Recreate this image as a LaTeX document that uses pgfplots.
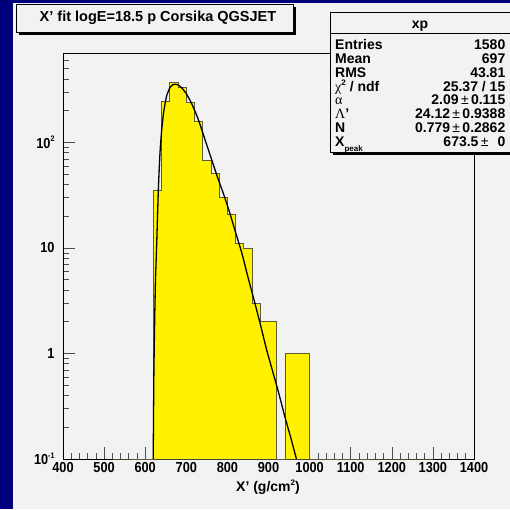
\documentclass[border=0pt]{standalone}
\usepackage{fontspec}
\setmainfont{Liberation Sans}
\newfontfamily\tickfont{Liberation Sans}[FakeStretch=0.88]
\newfontfamily\greek{Liberation Serif}
\usepackage{pgfplots}
\pgfplotsset{compat=1.18}
\definecolor{navyb}{RGB}{0,0,125}
\definecolor{canvas}{RGB}{242,242,242}
\definecolor{histline}{RGB}{90,90,60}
\newcommand{\sups}[1]{\raisebox{0.45em}{\fontsize{8}{8}\selectfont #1}}
\newcommand{\subs}[1]{\raisebox{-0.3em}{\fontsize{8}{8}\selectfont #1}}
\begin{document}
\begin{tikzpicture}[x=1pt,y=1pt]
\clip (0,0) rectangle (510,509);
\fill[navyb] (0,0) rectangle (510,509);
\fill[canvas] (13,0) rectangle (510,506);
\begin{axis}[at={(63pt,50pt)}, anchor=south west, scale only axis,
  width=411pt, height=406pt,
  xmin=400, xmax=1400, ymode=log, ymin=0.1, ymax=705,
  xtick={400,500,...,1400}, minor x tick num=4,
  ytick={0.1,1,10,100},
  minor ytick={0.2,0.3,0.4,0.5,0.6,0.7,0.8,0.9,2,3,4,5,6,7,8,9,20,30,40,50,60,70,80,90,200,300,400,500,600,700},
  yticklabels={10\sups{-1},1,10,10\sups{2}},
  xtick pos=bottom, ytick pos=left, tick align=inside,
  major tick length=12pt, minor tick length=6pt,
  every tick/.style={gray!60!black, line width=0.6pt},
  axis line style={black, line width=0.7pt},
  tick label style={font=\tickfont\fontsize{14.5}{16}\selectfont\bfseries},
  /pgf/number format/1000 sep={},
  /pgf/number format/assume math mode=true,
  xticklabel style={yshift=0pt},
  yticklabel style={xshift=-5pt},
  axis background/.style={fill=canvas}]
\addplot[fill=yellow, draw=histline, line width=0.8pt, const plot mark left] coordinates {
(520,0.1) (620,35) (640,244) (660,369) (680,331) (700,239) (720,160) (740,68)
(760,51) (780,30) (800,21) (820,11) (840,10) (860,3) (880,2) (900,2)
(920,0.1) (940,1) (960,1) (980,1) (1000,0.1) (1300,0.1)} -- cycle;
\addplot[black, line width=1.3pt, smooth, tension=0.3] coordinates {
(619.5,0.1) (621,0.6) (623,2) (625,5) (628,11) (632,36) (636,80) (640,130)
(645,195) (652,275) (660,330) (667,352) (674,357) (682,348) (690,326) (700,290)
(710,247) (720,203) (730,162) (745,108) (760,72) (775,48) (790,33) (805,22)
(820,14) (835,9) (850,5.3) (865,3.2) (880,1.9) (895,1.1) (910,0.68) (925,0.42)
(940,0.25) (955,0.155) (968,0.1)};
\end{axis}
\node[font=\fontsize{14}{16}\selectfont\bfseries] at (268,22) {X' (g/cm\sups{2})};
% title box
\fill[black] (19,474) rectangle (296,502);
\filldraw[fill=canvas, draw=black, line width=0.7pt] (16,477) rectangle (293,505);
\node[font=\fontsize{14.5}{16}\selectfont\bfseries] at (158,491) {X' fit logE=18.5 p Corsika QGSJET};
% stats box
\fill[black] (333,354) rectangle (515,494);
\filldraw[fill=canvas, draw=black, line width=0.7pt] (330,357) rectangle (515,497);
\draw[black, line width=0.7pt] (330,476) -- (515,476);
\begin{scope}[every node/.style={font=\fontsize{14}{16}\selectfont\bfseries, inner sep=0pt}]
\node[anchor=base] at (420,480) {xp};
\node[anchor=base west] at (335,459) {Entries};
\node[anchor=base east] at (505.5,459) {1580};
\node[anchor=base west] at (335,445) {Mean};
\node[anchor=base east] at (505.5,445) {697};
\node[anchor=base west] at (335,431) {RMS};
\node[anchor=base east] at (505.5,431) {43.81};
\node[anchor=base west] at (335,417) {{\greek\mdseries χ}\sups{2} / ndf};
\node[anchor=base east] at (505.5,417) {25.37 / 15};
\node[anchor=base west] at (335,404.5) {{\greek\mdseries α}};
\node[anchor=base east] at (505.5,404.5) {2.09\,{\mdseries ±}\,0.115};
\node[anchor=base west] at (335,390.5) {{\greek\mdseries Λ}'};
\node[anchor=base east] at (505.5,390.5) {24.12\,{\mdseries ±}\,0.9388};
\node[anchor=base west] at (335,376) {N};
\node[anchor=base east] at (505.5,376) {0.779\,{\mdseries ±}\,0.2862};
\node[anchor=base west] at (335,362) {X\subs{peak}};
\node[anchor=base east] at (505.5,362) {673.5\,{\mdseries ±}\hspace{9pt}0};
\end{scope}
\end{tikzpicture}
\end{document}
